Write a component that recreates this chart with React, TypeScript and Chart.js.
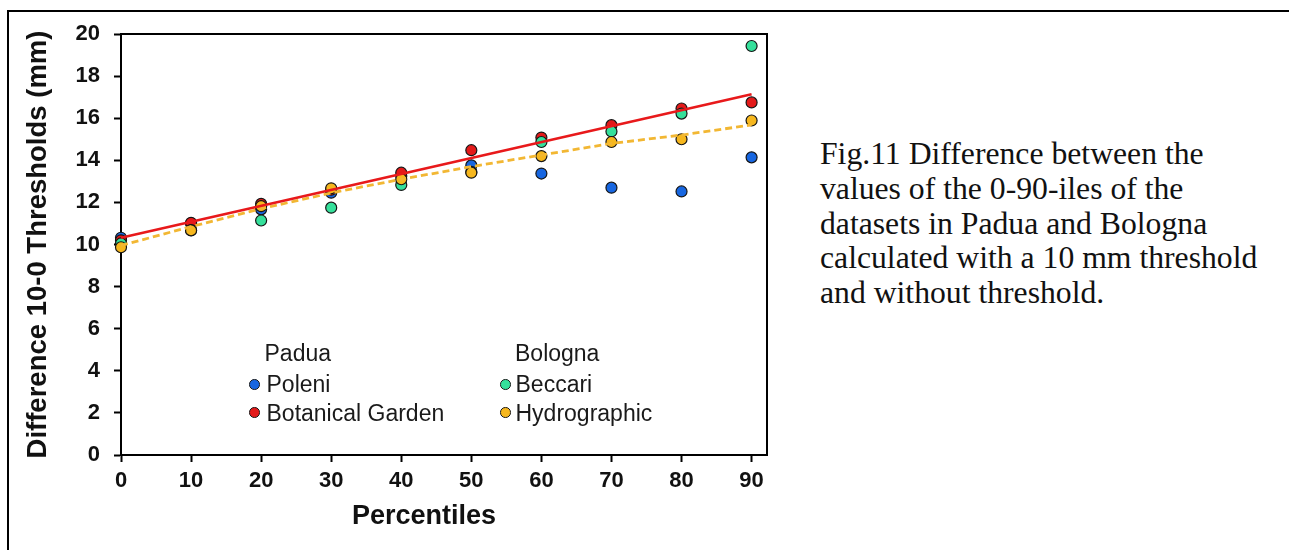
import React, { useEffect, useRef } from "react";
import { Chart, registerables } from "chart.js";

Chart.register(...registerables);

const percentiles = [0, 10, 20, 30, 40, 50, 60, 70, 80, 90];
const poleni = [10.32, 11.0, 11.67, 12.46, 13.25, 13.76, 13.37, 12.7, 12.52, 14.14];
const botanicalGarden = [10.2, 11.03, 11.93, 12.6, 13.41, 14.48, 15.08, 15.67, 16.46, 16.75];
const beccari = [10.05, 10.68, 11.14, 11.75, 12.83, 13.45, 14.87, 15.37, 16.22, 19.43];
const hydrographic = [9.87, 10.67, 11.82, 12.67, 13.1, 13.41, 14.2, 14.87, 15.0, 15.89];
const botanicalTrendX = [0, 90];
const botanicalTrend = [10.32, 17.14];
const hydrographicTrend = [9.95, 10.85, 11.7, 12.45, 13.1, 13.7, 14.25, 14.8, 15.2, 15.68];

const yTickValues = [0, 2, 4, 6, 8, 10, 12, 14, 16, 18, 20];
const xTickValues = [0, 10, 20, 30, 40, 50, 60, 70, 80, 90];

const COLORS = {
  poleni: "#1766e0",
  botanical: "#e31a1a",
  beccari: "#35e09b",
  hydro: "#f6b71e",
  redLine: "#e8191b",
  yellowLine: "#f2b733",
};

const SANS = "'Liberation Sans', Arial, Helvetica, sans-serif";
const SERIF = "'Liberation Serif', 'Times New Roman', serif";

export default function App() {
  const ref = useRef<HTMLCanvasElement>(null);

  useEffect(() => {
    const canvas = ref.current;
    if (!canvas) return;
    const pts = (ys: number[]) => percentiles.map((x, i) => ({ x, y: ys[i] }));
    const scatter = (label: string, ys: number[], color: string) => ({
      type: "scatter" as const,
      label,
      data: pts(ys),
      backgroundColor: color,
      borderColor: "#151515",
      borderWidth: 1.2,
      pointRadius: 5.5,
      pointHoverRadius: 5.5,
      showLine: false,
      clip: false as any,
    });

    const boxPlugin = {
      id: "plotBox",
      beforeDatasetsDraw(chart: any) {
        const { ctx, chartArea: a } = chart;
        ctx.save();
        ctx.strokeStyle = "#000";
        ctx.lineWidth = 2;
        ctx.beginPath();
        ctx.moveTo(a.left, a.top);
        ctx.lineTo(a.right, a.top);
        ctx.lineTo(a.right, a.bottom);
        ctx.stroke();
        ctx.restore();
      },
    };

    const chart = new Chart(canvas, {
      type: "scatter",
      data: {
        datasets: [
          {
            type: "line",
            label: "Botanical Garden trend",
            data: botanicalTrendX.map((x, i) => ({ x, y: botanicalTrend[i] })),
            borderColor: COLORS.redLine,
            borderWidth: 2.6,
            pointRadius: 0,
            showLine: true,
            fill: false,
            clip: false as any,
          },
          {
            type: "line",
            label: "Hydrographic trend",
            data: pts(hydrographicTrend),
            borderColor: COLORS.yellowLine,
            borderWidth: 2.8,
            borderDash: [7, 4],
            pointRadius: 0,
            showLine: true,
            fill: false,
            clip: false as any,
          },
          scatter("Hydrographic", hydrographic, COLORS.hydro),
          scatter("Beccari", beccari, COLORS.beccari),
          scatter("Botanical Garden", botanicalGarden, COLORS.botanical),
          scatter("Poleni", poleni, COLORS.poleni),
        ] as any,
      },
      options: {
        animation: false,
        responsive: false,
        maintainAspectRatio: false,
        layout: { padding: { top: 34, right: 33, left: 0, bottom: 0 } },
        plugins: { legend: { display: false }, tooltip: { enabled: false } },
        scales: {
          x: {
            type: "linear",
            min: 0,
            max: 92.2,
            border: { display: true, color: "#000", width: 2 },
            grid: {
              display: true,
              drawOnChartArea: false,
              drawTicks: true,
              tickLength: 7,
              tickColor: "#000",
              tickWidth: 2,
            },
            afterBuildTicks: (s: any) => {
              s.ticks = xTickValues.map((v) => ({ value: v }));
            },
            ticks: {
              color: "#111",
              font: { family: SANS, size: 22, weight: "bold" },
              padding: 6,
              maxRotation: 0,
              autoSkip: false,
            },
            afterFit: (s: any) => {
              s.height = 95;
            },
          },
          y: {
            type: "linear",
            min: 0,
            max: 20,
            border: { display: true, color: "#000", width: 2 },
            grid: {
              display: true,
              drawOnChartArea: false,
              drawTicks: true,
              tickLength: 7,
              tickColor: "#000",
              tickWidth: 2,
            },
            afterBuildTicks: (s: any) => {
              s.ticks = yTickValues.map((v) => ({ value: v }));
            },
            ticks: {
              color: "#111",
              font: { family: SANS, size: 22, weight: "bold" },
              padding: 14,
              autoSkip: false,
            },
            title: {
              display: true,
              text: "Difference 10-0 Thresholds (mm)",
              color: "#111",
              font: { family: SANS, size: 27.5, weight: "bold" },
              padding: { top: 21.5, bottom: 0 },
            },
            afterFit: (s: any) => {
              s.width = 121;
            },
          },
        },
      } as any,
      plugins: [boxPlugin],
    });
    return () => chart.destroy();
  }, []);

  const legendText = (text: string, left: number, centerY: number) => (
    <div
      style={{
        position: "absolute",
        left,
        top: centerY - 11.3,
        fontFamily: SANS,
        fontSize: 23,
        lineHeight: "23px",
        color: "#1a1a1a",
        whiteSpace: "nowrap",
      }}
    >
      {text}
    </div>
  );
  const legendDot = (color: string, cx: number, cy: number) => (
    <div
      style={{
        position: "absolute",
        left: cx - 5,
        top: cy - 5,
        width: 8.5,
        height: 8.5,
        borderRadius: "50%",
        background: color,
        border: "1px solid #1a1a1a",
      }}
    />
  );

  return (
    <div
      style={{
        position: "absolute",
        left: 0,
        top: 0,
        width: 1289,
        height: 550,
        overflow: "hidden",
        background: "#fff",
      }}
    >
      <div
        style={{
          position: "absolute",
          left: 7,
          top: 10,
          width: 1400,
          height: 700,
          borderLeft: "2px solid #000",
          borderTop: "2px solid #000",
        }}
      />
      <canvas
        ref={ref}
        width={800}
        height={550}
        style={{ position: "absolute", left: 0, top: 0 }}
      />
      <div
        style={{
          position: "absolute",
          left: 324,
          width: 200,
          top: 502,
          textAlign: "center",
          fontFamily: SANS,
          fontWeight: "bold",
          fontSize: 27,
          lineHeight: "27px",
          color: "#111",
        }}
      >
        Percentiles
      </div>
      {legendText("Padua", 264.5, 353)}
      {legendText("Bologna", 515, 353)}
      {legendDot(COLORS.poleni, 254, 384)}
      {legendText("Poleni", 266.5, 384)}
      {legendDot(COLORS.botanical, 254, 412)}
      {legendText("Botanical Garden", 266.5, 413)}
      {legendDot(COLORS.beccari, 505, 384)}
      {legendText("Beccari", 515.5, 384)}
      {legendDot(COLORS.hydro, 505, 412)}
      {legendText("Hydrographic", 515.5, 413)}
      <div
        style={{
          position: "absolute",
          left: 820,
          top: 137,
          fontFamily: SERIF,
          fontSize: 31.7,
          lineHeight: "34.75px",
          color: "#111",
          whiteSpace: "nowrap",
        }}
      >
        Fig.11 Difference between the
        <br />
        values of the 0-90-iles of the
        <br />
        datasets in Padua and Bologna
        <br />
        calculated with a 10 mm threshold
        <br />
        and without threshold.
      </div>
    </div>
  );
}
